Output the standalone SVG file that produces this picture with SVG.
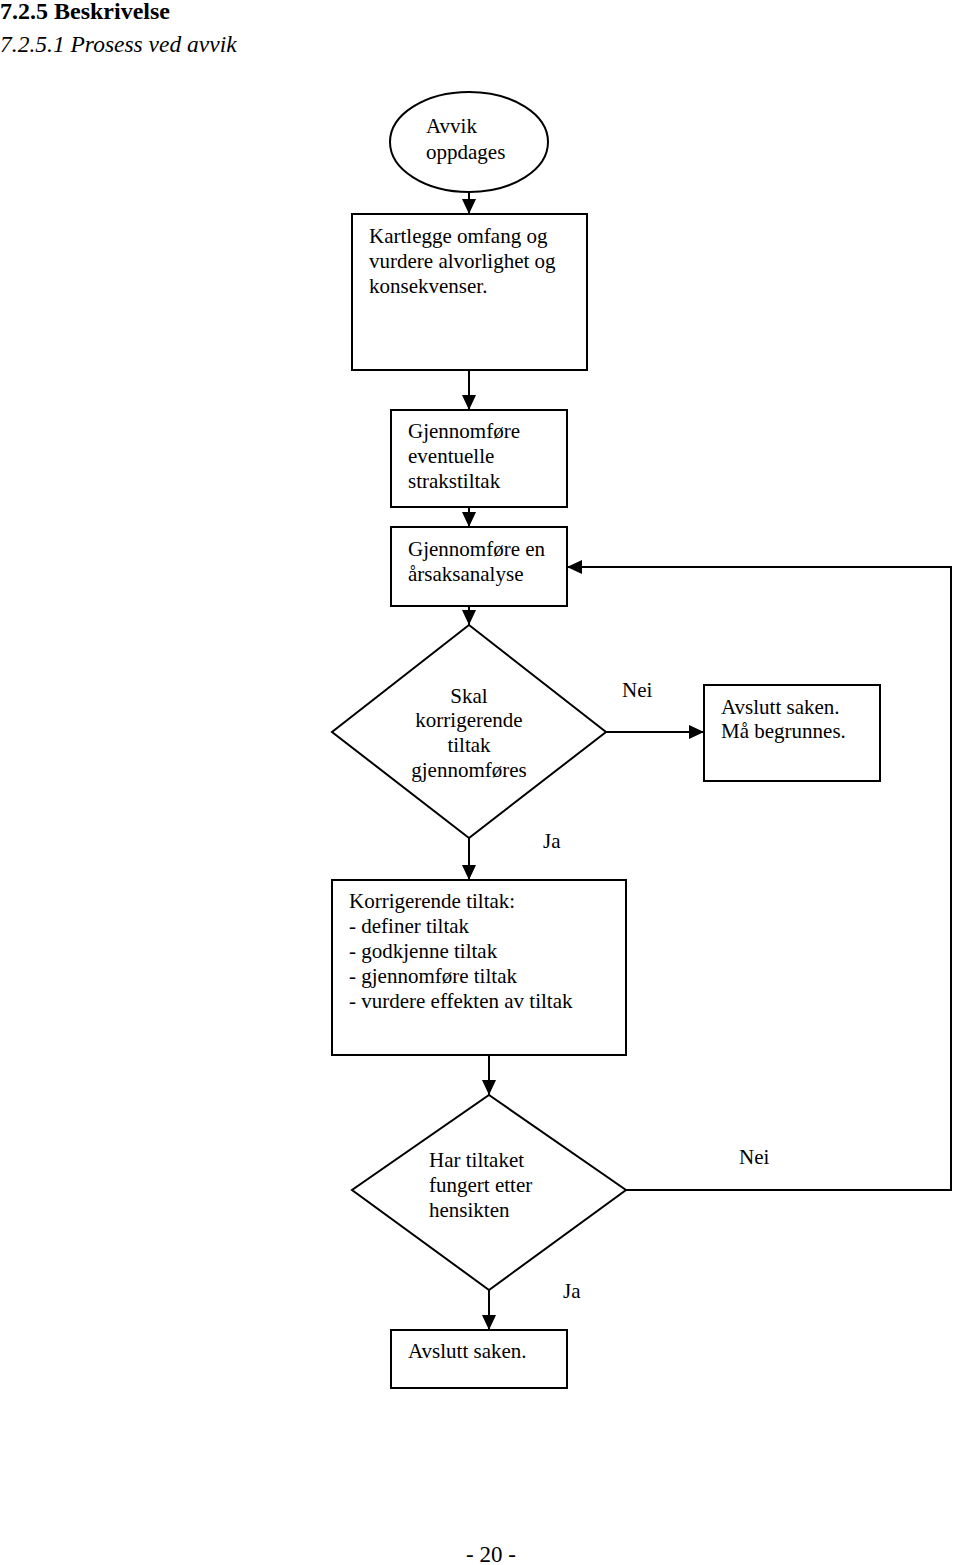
<svg xmlns="http://www.w3.org/2000/svg" width="960" height="1565" viewBox="0 0 960 1565">
<style>
text{font-family:"Liberation Serif","Times New Roman",serif;font-size:21px;fill:#000}
.h1{font-weight:bold;font-size:24px}
.h2{font-style:italic;font-size:23.5px}
.shape{fill:#fff;stroke:#000;stroke-width:2}
.line{fill:none;stroke:#000;stroke-width:2}
</style>
<defs>
<marker id="arr" markerWidth="15" markerHeight="14" refX="15" refY="7" orient="auto" markerUnits="userSpaceOnUse">
<path d="M0,0 L15,7 L0,14 Z" fill="#000"/>
</marker>
</defs>
<rect width="960" height="1565" fill="#fff"/>
<text class="h1" x="0" y="19">7.2.5 Beskrivelse</text>
<text class="h2" x="0" y="52">7.2.5.1 Prosess ved avvik</text>

<g id="connectors">
<line class="line" x1="469" y1="192" x2="469" y2="214" marker-end="url(#arr)"/>
<line class="line" x1="469" y1="370" x2="469" y2="410" marker-end="url(#arr)"/>
<line class="line" x1="469" y1="507" x2="469" y2="527" marker-end="url(#arr)"/>
<line class="line" x1="469" y1="606" x2="469" y2="625" marker-end="url(#arr)"/>
<line class="line" x1="606" y1="732" x2="704" y2="732" marker-end="url(#arr)"/>
<line class="line" x1="469" y1="838" x2="469" y2="880" marker-end="url(#arr)"/>
<line class="line" x1="489" y1="1055" x2="489" y2="1095" marker-end="url(#arr)"/>
<polyline class="line" points="626,1190 951,1190 951,567 567,567" marker-end="url(#arr)"/>
<line class="line" x1="489" y1="1290" x2="489" y2="1330" marker-end="url(#arr)"/>
<text x="622" y="697">Nei</text>
<text x="543" y="848">Ja</text>
<text x="739" y="1164">Nei</text>
<text x="563" y="1298">Ja</text>
</g>

<g id="n1">
<ellipse class="shape" cx="469" cy="142" rx="79" ry="50"/>
<text x="426" y="133">Avvik</text>
<text x="426" y="159">oppdages</text>
</g>
<g id="n2">
<rect class="shape" x="352" y="214" width="235" height="156"/>
<text x="369" y="243">Kartlegge omfang og</text>
<text x="369" y="268">vurdere alvorlighet og</text>
<text x="369" y="293">konsekvenser.</text>
</g>
<g id="n3">
<rect class="shape" x="391" y="410" width="176" height="97"/>
<text x="408" y="438">Gjennomføre</text>
<text x="408" y="463">eventuelle</text>
<text x="408" y="488">strakstiltak</text>
</g>
<g id="n4">
<rect class="shape" x="391" y="527" width="176" height="79"/>
<text x="408" y="556">Gjennomføre en</text>
<text x="408" y="581">årsaksanalyse</text>
</g>
<g id="n5">
<polygon class="shape" points="469,625 606,732 469,838 332,732"/>
<text x="469" y="703" text-anchor="middle">Skal</text>
<text x="469" y="727" text-anchor="middle">korrigerende</text>
<text x="469" y="752" text-anchor="middle">tiltak</text>
<text x="469" y="777" text-anchor="middle">gjennomføres</text>
</g>
<g id="n6">
<rect class="shape" x="704" y="685" width="176" height="96"/>
<text x="721" y="714">Avslutt saken.</text>
<text x="721" y="738">Må begrunnes.</text>
</g>
<g id="n7">
<rect class="shape" x="332" y="880" width="294" height="175"/>
<text x="349" y="908">Korrigerende tiltak:</text>
<text x="349" y="933">- definer tiltak</text>
<text x="349" y="958">- godkjenne tiltak</text>
<text x="349" y="983">- gjennomføre tiltak</text>
<text x="349" y="1008">- vurdere effekten av tiltak</text>
</g>
<g id="n8">
<polygon class="shape" points="489,1095 626,1190 489,1290 352,1190"/>
<text x="429" y="1167">Har tiltaket</text>
<text x="429" y="1192">fungert etter</text>
<text x="429" y="1217">hensikten</text>
</g>
<g id="n9">
<rect class="shape" x="391" y="1330" width="176" height="58"/>
<text x="408" y="1358">Avslutt saken.</text>
</g>
<text x="491" y="1562" text-anchor="middle" style="font-size:23px">- 20 -</text>
</svg>
